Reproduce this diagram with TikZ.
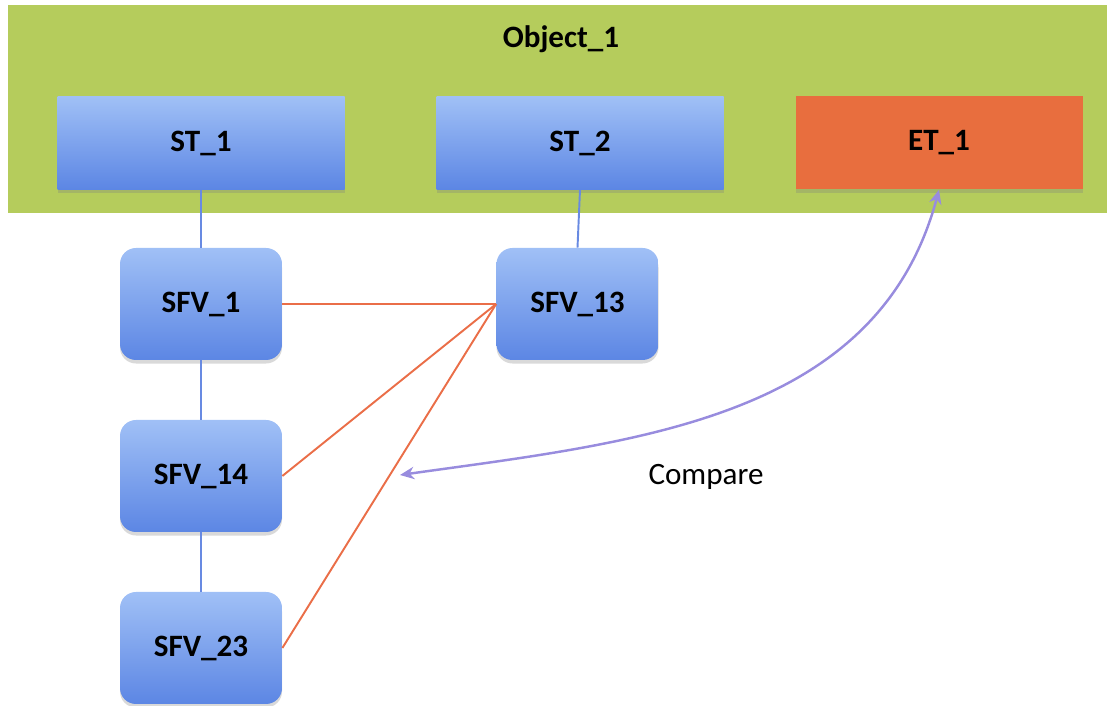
\documentclass[tikz,border=0pt]{standalone}
\usepackage{fontspec}
\setmainfont{Carlito}
\usepackage{tikz}
\usepackage{xcolor}
\usetikzlibrary{arrows.meta,positioning,shadows}

\definecolor{objgreen}{RGB}{181,204,92}
\definecolor{boxtop}{RGB}{160,192,246}
\definecolor{boxbot}{RGB}{92,134,228}
\definecolor{etorange}{RGB}{232,110,62}
\definecolor{linkblue}{RGB}{104,138,226}
\definecolor{linkred}{RGB}{234,110,72}
\definecolor{cmppurple}{RGB}{152,140,222}

\begin{document}
\begin{tikzpicture}[font=\fontsize{17.7}{20}\selectfont,
	tbox/.style={rectangle,minimum width=5.74cm,minimum height=1.86cm,font=\fontsize{17.7}{20}\selectfont\bfseries,
		drop shadow={shadow xshift=0pt,shadow yshift=-2pt,opacity=.3}},
	stbox/.style={tbox,top color=boxtop,bottom color=boxbot},
	etbox/.style={tbox,fill=etorange},
	sfvbox/.style={rectangle,rounded corners=0.32cm,minimum width=3.24cm,minimum height=2.24cm,
		top color=boxtop,bottom color=boxbot,font=\fontsize{17.7}{20}\selectfont\bfseries,
		drop shadow={shadow xshift=0pt,shadow yshift=-2pt,opacity=.3}},
	bluelink/.style={draw=linkblue,line width=1.1pt},
	redlink/.style={draw=linkred,line width=1.1pt},
	cmplink/.style={draw=cmppurple,line width=1.4pt,{Stealth[length=8pt,width=7pt,inset=2.5pt]}-{Stealth[length=8pt,width=7pt,inset=2.5pt]}}]
	\useasboundingbox (0,0) rectangle (22.14,14.12);

	\fill[objgreen] (0.16,9.86) rectangle (22.14,14.02);
	\node (obj) at (11.22,13.34) {\bfseries Object\_1};

	\node (st1) at (4.02,11.26) [stbox] {ST\_1};
	\node (st2) at (11.6,11.26) [stbox] {ST\_2};
	\node (et1) at (18.78,11.26) [etbox] {ET\_1};

	\node (sfv1) at (4.02,8.04) [sfvbox] {SFV\_1};
	\node (sfv13) at (11.55,8.04) [sfvbox] {SFV\_13};
	\node (sfv14) at (4.02,4.6) [sfvbox] {SFV\_14};
	\node (sfv23) at (4.02,1.16) [sfvbox] {SFV\_23};

	\draw[bluelink] (st1.south) -- (sfv1.north);
	\draw[bluelink] (sfv1.south) -- (sfv14.north);
	\draw[bluelink] (sfv14.south) -- (sfv23.north);
	\draw[bluelink] (st2.south) -- (sfv13.north);

	\draw[redlink] (sfv1.east) -- (sfv13.west);
	\draw[redlink] (sfv14.east) -- (sfv13.west);
	\draw[redlink] (sfv23.east) -- (sfv13.west);

	\coordinate (cmp) at (8.0,4.62);
	\draw[cmplink] (et1.south) to[out=-105,in=8] (cmp);
	\node (cmptext) at (14.12,4.58) {Compare};
\end{tikzpicture}
\end{document}
